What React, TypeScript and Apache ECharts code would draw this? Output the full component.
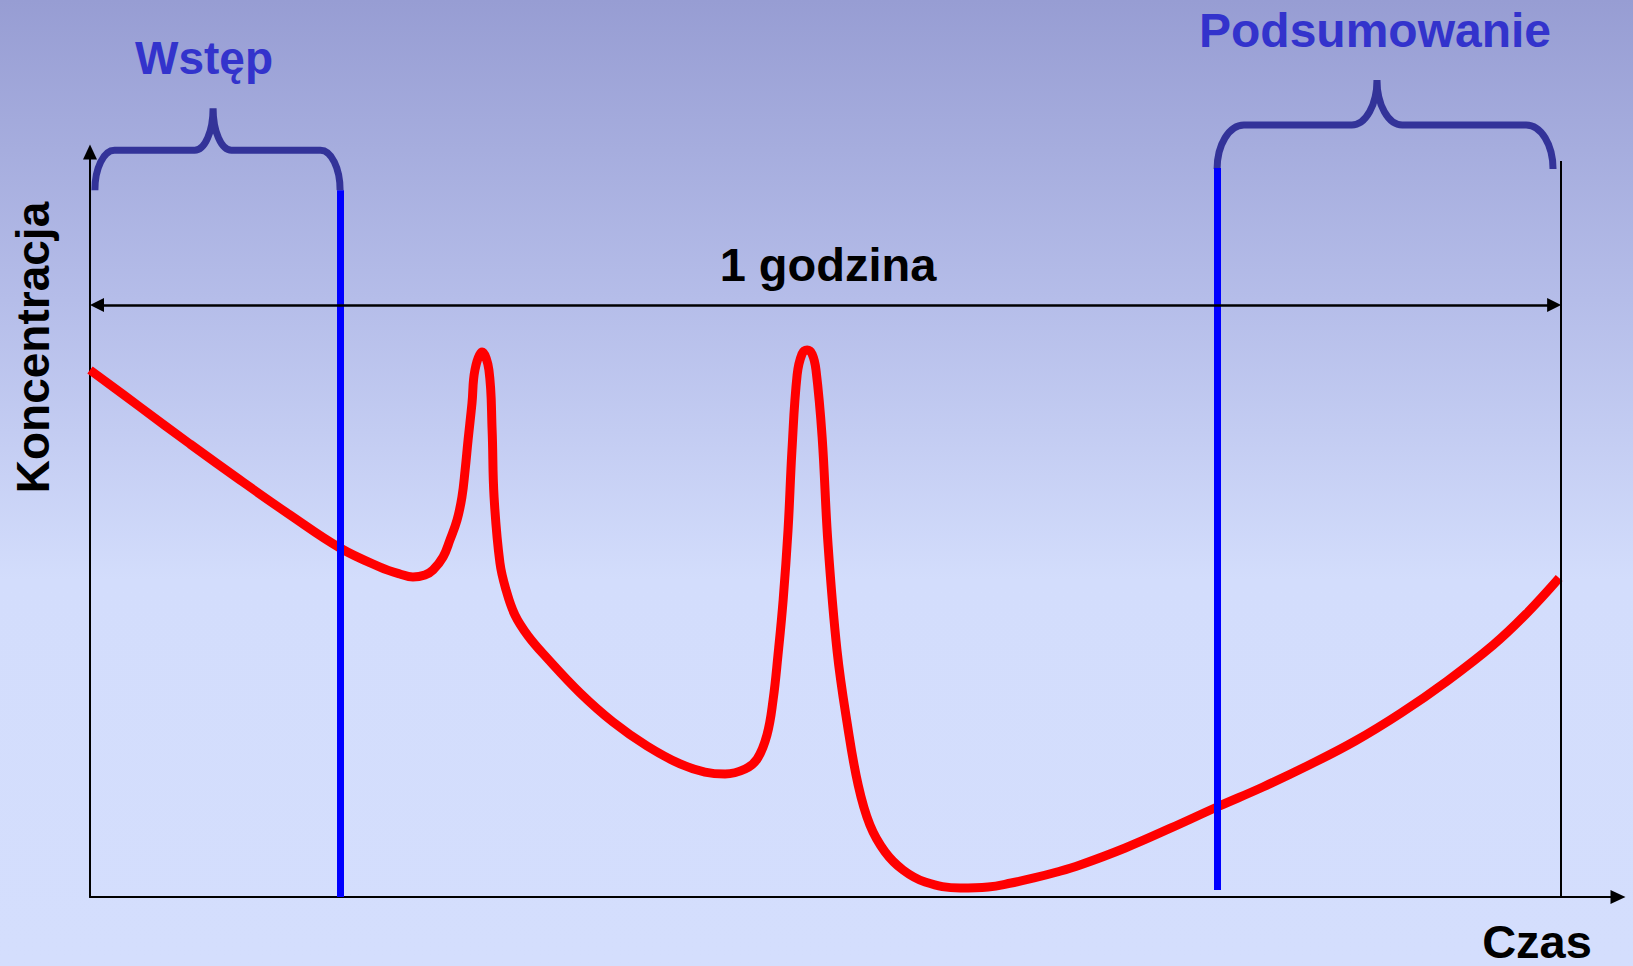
import React, { useEffect, useRef } from "react";
import * as echarts from "echarts";

// Time in minutes (1 hour = 60) and concentration (relative units)
const timeMin = [
  0.0, 2.04, 4.08, 6.12, 8.16, 10.2, 11.83, 12.64, 13.17, 13.66, 13.99, 14.4, 14.68, 14.97, 15.17, 15.3,
  15.42, 15.58, 15.7, 15.99, 16.27, 16.4, 16.48, 16.72, 16.97, 17.33, 17.87, 18.64, 19.99, 21.33, 22.72,
  24.07, 25.08, 25.9, 26.72, 27.21, 27.61, 27.86, 28.06, 28.27, 28.47, 28.63, 28.84, 29.04, 29.25, 29.45,
  29.61, 29.86, 30.1, 30.47, 30.88, 31.33, 31.81, 32.43, 33.16, 34.06, 35.49, 36.63, 37.57, 38.5, 39.44,
  40.38, 42.22, 44.09, 45.97, 47.84, 49.72, 51.6, 53.47, 55.35, 57.23, 58.57, 59.92,
];
const concentration = [
  70.08, 65.16, 60.24, 55.45, 50.8, 46.41, 43.88, 42.95, 42.55, 42.82, 43.48, 45.21, 47.47, 50.13, 53.19, 56.78,
  60.77, 65.69, 70.08, 72.47, 70.08, 62.1, 53.19, 44.41, 40.82, 37.5, 34.71, 31.78, 27.13, 23.27, 20.08,
  17.69, 16.62, 16.36, 17.02, 18.35, 21.54, 26.2, 32.18, 39.49, 48.8, 59.44, 69.41, 72.21, 72.74, 72.21,
  70.08, 61.17, 46.94, 32.71, 23.14, 14.89, 9.57, 5.98, 3.59, 1.99, 1.2, 1.33, 1.86, 2.53, 3.32,
  4.26, 6.52, 9.18, 11.97, 14.63, 17.55, 20.74, 24.47, 28.72, 33.51, 37.63, 42.42,
];

// Phase boundaries (blue vertical lines)
const phaseX = [10.2, 45.97];
const phaseBottom = [0, 0.93];
const phaseTop = [94.0, 96.94];

// One-hour marker
const hourStart = 0;
const hourEnd = 60;
const hourLineTop = 97.87;
const hourArrowLevel = 78.72;
const hourLabel = "1 godzina";

// Braces
const braceLabels = ["Wstęp", "Podsumowanie"];
const braceStart = [0.2, 45.97];
const braceEnd = [10.2, 59.67];
const braceMid = [5.02, 52.49];
const braceFoot = [94.0, 96.8];
const braceBar = [99.3, 102.66];
const bracePeak = [104.9, 108.64];
const braceLabelX = [4.65, 52.41];

const xAxisName = "Czas";
const yAxisName = "Koncentracja";

const FONT = "'Liberation Sans', Arial, Helvetica, sans-serif";

export default function App() {
  const ref = useRef<HTMLDivElement>(null);

  useEffect(() => {
    if (!ref.current) return;
    const chart = echarts.init(ref.current, null, { renderer: "svg" });

    const curve = timeMin.map((t, i) => [t, concentration[i]]);
    const braceData = braceLabels.map((_, i) => [
      braceStart[i],
      braceEnd[i],
      braceMid[i],
      braceFoot[i],
      braceBar[i],
      bracePeak[i],
      braceLabelX[i],
      i,
    ]);

    // half the arrow-head length (7px) in minutes, so the tips touch the hour limits
    const tipPad = 7 / 24.517;

    const markLines: any[] = phaseX.map((x, i) => [
      { coord: [x, phaseBottom[i]], lineStyle: { color: "#0000ff", width: 7, type: "solid" } },
      { coord: [x, phaseTop[i]] },
    ]);
    markLines.push([
      { coord: [hourEnd, 0], lineStyle: { color: "#000000", width: 2, type: "solid" } },
      { coord: [hourEnd, hourLineTop] },
    ]);
    markLines.push([
      {
        coord: [hourStart + tipPad, hourArrowLevel],
        symbol: "triangle",
        symbolSize: [14, 14],
        lineStyle: { color: "#000000", width: 2.5, type: "solid" },
      },
      { coord: [hourEnd - tipPad, hourArrowLevel], symbol: "triangle", symbolSize: [14, 14] },
    ]);

    const k = 0.552;

    chart.setOption({
      animation: false,
      backgroundColor: "transparent",
      grid: { left: 90, right: 15, top: 152, bottom: 69, containLabel: false },
      xAxis: {
        type: "value",
        min: 0,
        max: 62.32,
        axisLine: {
          show: true,
          onZero: false,
          symbol: ["none", "triangle"],
          symbolSize: [14, 15],
          lineStyle: { color: "#000000", width: 2 },
        },
        axisTick: { show: false },
        axisLabel: { show: false },
        splitLine: { show: false },
      },
      yAxis: {
        type: "value",
        min: 0,
        max: 99.07,
        axisLine: {
          show: true,
          onZero: false,
          symbol: ["none", "triangle"],
          symbolSize: [14, 15],
          lineStyle: { color: "#000000", width: 2 },
        },
        axisTick: { show: false },
        axisLabel: { show: false },
        splitLine: { show: false },
      },
      series: [
        {
          type: "line",
          data: curve,
          smooth: 0.4,
          showSymbol: false,
          symbol: "none",
          lineStyle: { color: "#ff0000", width: 9 },
          silent: true,
          z: 2,
          markLine: {
            silent: true,
            symbol: "none",
            symbolSize: 14,
            label: { show: false },
            emphasis: { disabled: true },
            data: markLines,
          },
        },
        {
          type: "custom",
          clip: false,
          silent: true,
          z: 3,
          data: braceData,
          renderItem: (params: any, api: any) => {
            const x0 = api.value(0);
            const x1 = api.value(1);
            const xm = api.value(2);
            const yb = api.value(3);
            const yt = api.value(4);
            const yp = api.value(5);
            const xl = api.value(6);
            const idx = api.value(7);
            const p0 = api.coord([x0, yb]);
            const p1 = api.coord([x1, yb]);
            const pm = api.coord([xm, yt]);
            const pp = api.coord([xm, yp]);
            const pl = api.coord([xl, yp]);
            const X0 = p0[0];
            const X1 = p1[0];
            const YB = p0[1];
            const YT = pm[1];
            const XM = pm[0];
            const YP = pp[1];
            const w = X1 - X0;
            const r = w * 0.08;
            const h = w * 0.075;
            const dy = YB - YT;
            const dp = YT - YP;
            const d = [
              `M${X0},${YB}`,
              `C${X0},${YB - k * dy} ${X0 + r - k * r},${YT} ${X0 + r},${YT}`,
              `L${XM - h},${YT}`,
              `C${XM - h + k * h},${YT} ${XM},${YP + k * dp} ${XM},${YP}`,
              `C${XM},${YP + k * dp} ${XM + h - k * h},${YT} ${XM + h},${YT}`,
              `L${X1 - r},${YT}`,
              `C${X1 - r + k * r},${YT} ${X1},${YB - k * dy} ${X1},${YB}`,
            ].join(" ");
            return {
              type: "group",
              children: [
                {
                  type: "path",
                  shape: { pathData: d },
                  style: { stroke: "#333399", lineWidth: 7, fill: "none" },
                },
                {
                  type: "text",
                  x: pl[0],
                  y: YP - 50,
                  style: {
                    text: braceLabels[idx],
                    fill: "#3333cc",
                    font: `bold ${idx === 1 ? 48 : 46}px ${FONT}`,
                    align: "center",
                    verticalAlign: "middle",
                    textAlign: "center",
                    textVerticalAlign: "middle",
                  },
                },
              ],
            };
          },
        },
      ],
      graphic: [
        {
          type: "text",
          x: 828,
          y: 264.5,
          style: {
            text: hourLabel,
            fill: "#000000",
            font: `bold 47px ${FONT}`,
            align: "center",
            verticalAlign: "middle",
            textAlign: "center",
            textVerticalAlign: "middle",
          },
        },
        {
          type: "text",
          x: 1537,
          y: 941,
          style: {
            text: xAxisName,
            fill: "#000000",
            font: `bold 47px ${FONT}`,
            align: "center",
            verticalAlign: "middle",
            textAlign: "center",
            textVerticalAlign: "middle",
          },
        },
        {
          type: "text",
          x: 32.5,
          y: 347.5,
          rotation: Math.PI / 2,
          style: {
            text: yAxisName,
            fill: "#000000",
            font: `bold 46px ${FONT}`,
            align: "center",
            verticalAlign: "middle",
            textAlign: "center",
            textVerticalAlign: "middle",
          },
        },
      ],
    });

    return () => chart.dispose();
  }, []);

  return (
    <div
      style={{
        position: "fixed",
        left: 0,
        top: 0,
        width: 1633,
        height: 966,
        background:
          "linear-gradient(to bottom, #979dd3 0px, #b5bde9 300px, #d3ddfc 580px, #d4defd 966px)",
      }}
    >
      <div ref={ref} style={{ width: 1633, height: 966 }} />
    </div>
  );
}
